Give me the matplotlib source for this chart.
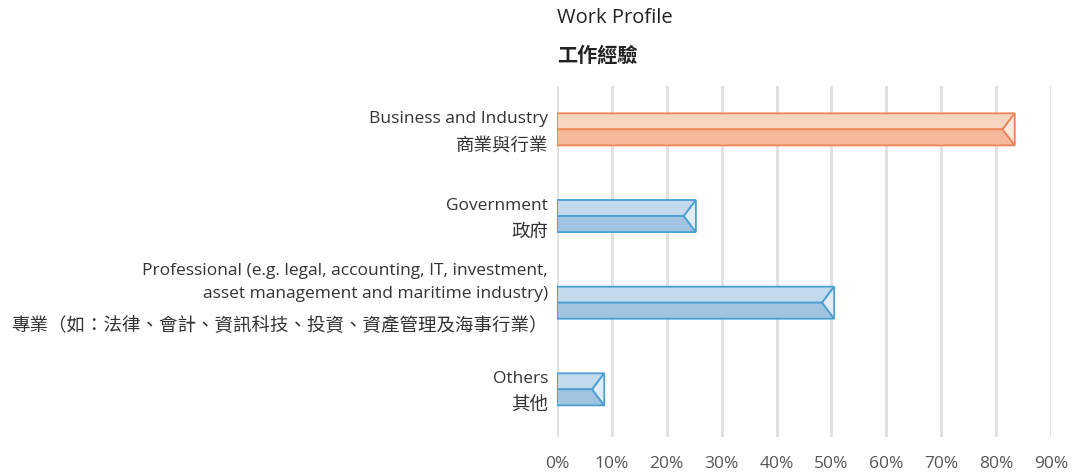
import matplotlib
matplotlib.use("Agg")
import matplotlib.pyplot as plt
from matplotlib.patches import Polygon

plt.rcParams["font.family"] = ["Open Sans", "Noto Sans CJK TC", "DejaVu Sans"]

# data
categories_en = [
    "Business and Industry",
    "Government",
    "Professional (e.g. legal, accounting, IT, investment,\nasset management and maritime industry)",
    "Others",
]
categories_zh = [
    "商業與行業",
    "政府",
    "專業（如：法律、會計、資訊科技、投資、資產管理及海事行業）",
    "其他",
]
shares = [83.4, 25.3, 50.5, 8.6]
ticks = [0, 10, 20, 30, 40, 50, 60, 70, 80, 90]
tick_labels = [f"{t}%" for t in ticks]

orange = dict(edge="#f08358", top="#f9d4c0", bottom="#f6b99b", tip="#fde8dd")
blue = dict(edge="#4a9fd2", top="#c3d9ec", bottom="#a1c4e1", tip="#e2ecf6")
styles = [orange, blue, blue, blue]

text_color = "#333333"


def ribbon_bar(ax, y, value, height, notch, st):
    top = y - height / 2
    bot = y + height / 2
    tip_x = max(value - notch, 0)
    upper = [(0, top), (value, top), (tip_x, y), (0, y)]
    lower = [(0, y), (tip_x, y), (value, bot), (0, bot)]
    tip = [(tip_x, y), (value, top), (value, bot)]
    for pts, fc in ((upper, st["top"]), (lower, st["bottom"]), (tip, st["tip"])):
        ax.add_patch(Polygon(pts, closed=True, facecolor=fc,
                             edgecolor=st["edge"], linewidth=1.3, zorder=3,
                             joinstyle="miter"))


def main():
    fig = plt.figure(figsize=(10.81, 4.75), dpi=100)
    ax = fig.add_axes([0.5153, 0.08, 0.9722 - 0.5153, 0.8189 - 0.08])

    bar_h = 0.37
    notch = 2.2
    for i, v in enumerate(shares):
        ribbon_bar(ax, i, v, bar_h, notch, styles[i])

    ax.set_xlim(0, 90)
    ax.set_ylim(len(shares) - 0.45, -0.5)
    ax.set_xticks(ticks)
    ax.set_xticklabels(tick_labels, fontsize=12.5, color="#555555")
    ax.set_yticks([])
    ax.tick_params(axis="x", length=0, pad=14)
    ax.grid(axis="x", color="#e2e2e2", linewidth=2.2, zorder=0)
    ax.set_axisbelow(True)
    for s in ax.spines.values():
        s.set_visible(False)

    # category labels: English above, Chinese below
    for i in range(len(shares)):
        n_lines = categories_en[i].count("\n") + 1
        if n_lines == 1:
            en_off, zh_off = 10, -16
        else:
            en_off, zh_off = 20, -23
        ax.annotate(categories_en[i], xy=(0, i), xytext=(-9, en_off),
                    textcoords="offset pixels", ha="right", va="center",
                    fontsize=12.5, color=text_color, linespacing=1.6,
                    annotation_clip=False)
        ax.annotate(categories_zh[i], xy=(0, i), xytext=(-9, zh_off),
                    textcoords="offset pixels", ha="right", va="center",
                    fontsize=13.3, color=text_color,
                    family=["Noto Sans CJK TC", "DejaVu Sans"],
                    annotation_clip=False)

    fig.text(0.5153, 0.962, "Work Profile", fontsize=14.5, color="#222222",
             ha="left", va="center")
    fig.text(0.5153, 0.884, "工作經驗", fontsize=14.5, color="#222222",
             ha="left", va="center", fontweight="bold",
             family=["Noto Sans CJK TC", "DejaVu Sans"])

    fig.savefig("out.png", dpi=100)


if __name__ == "__main__":
    main()
